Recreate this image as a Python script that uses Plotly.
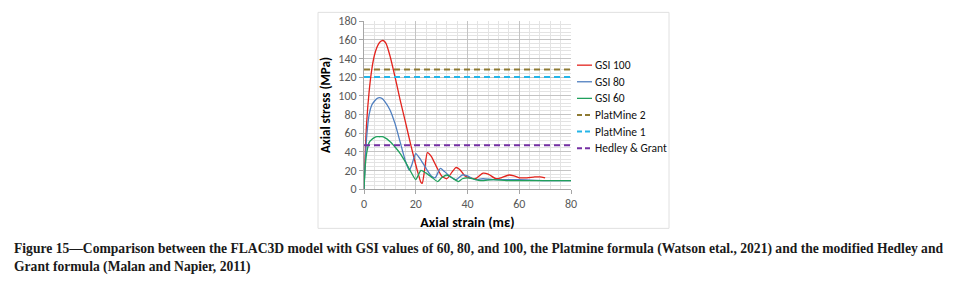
import plotly.graph_objects as go

# ---------------- data ----------------
gsi100_x = [0, 0.5, 1, 2, 3, 4, 5, 6, 7, 7.5, 8.5, 10, 12, 14, 16, 18, 20, 21, 22, 22.5, 23.5, 24.5, 26, 28, 30, 32, 34, 35.5, 37, 39, 41, 43, 46, 48, 51, 53, 56, 58, 60, 63, 66, 68, 70]
gsi100_y = [0, 40, 70, 105, 128, 143, 152, 157, 159, 159, 156, 143, 120, 95, 72, 48, 26, 16, 7, 6, 22, 39, 35, 24, 14, 11, 18, 23, 21, 14, 12, 11, 17, 16, 11, 12, 15, 14, 12, 12, 13, 13, 12]

gsi80_x = [0, 0.5, 1, 2, 3, 4, 5, 6, 7, 8, 10, 12, 14, 16, 17.5, 18.5, 20, 22, 24, 26, 27.5, 29.5, 31, 33, 35.5, 38, 40, 43, 46, 50, 55, 60, 70, 80]
gsi80_y = [0, 30, 55, 80, 90, 94, 97, 98, 97, 94, 85, 70, 50, 30, 20, 26, 38, 31, 22, 14, 12, 22, 19, 14, 10, 15, 14, 10, 11, 10, 10, 10, 9, 9]

gsi60_x = [0, 0.5, 1, 2, 3, 4, 5, 6, 7, 8, 10, 12, 14, 16, 18, 20, 21, 22, 24, 26, 28.5, 30, 32, 34, 36.5, 38, 40, 42, 45, 50, 55, 60, 70, 80]
gsi60_y = [0, 25, 38, 50, 53, 55, 56, 56, 56, 55, 51, 45, 38, 29, 19, 10, 15, 20, 17, 13, 8, 12, 15, 12, 8, 11, 12, 11, 9, 10, 9, 9, 9, 9]

ref_x = [0, 80]
platmine2 = 128
platmine1 = 120
hedley_grant = 47

series_names = ["GSI 100", "GSI 80", "GSI 60", "PlatMine 2", "PlatMine 1", "Hedley & Grant"]
series_colors = ["#e3231d", "#4f7fc0", "#1fa05c", "#8e7a32", "#25b5e8", "#7530a4"]

x_ticks = [0, 20, 40, 60, 80]
y_ticks = [0, 20, 40, 60, 80, 100, 120, 140, 160, 180]

caption = ("<b>Figure 15\u2014Comparison between the FLAC3D model with GSI values of 60, 80, and 100, the Platmine formula "
           "(Watson etal., 2021) and the modified Hedley and<br>Grant formula (Malan and Napier, 2011)</b>")

# ---------------- geometry helpers (reference pixel -> paper) ----------------
PL, PR, PT, PB = 364, 571, 14, 189


def px(x):
    return (x - PL) / (PR - PL)


def py(y):
    return (PB - y) / (PB - PT)


# ---------------- figure ----------------
fig = go.Figure()
solid = dict(width=1.3, shape="spline", smoothing=0.6)
dashed = dict(width=2, dash="6px,4px")
fig.add_trace(go.Scatter(x=gsi100_x, y=gsi100_y, mode="lines", name=series_names[0],
                         line=dict(color=series_colors[0], **solid)))
fig.add_trace(go.Scatter(x=gsi80_x, y=gsi80_y, mode="lines", name=series_names[1],
                         line=dict(color=series_colors[1], **solid)))
fig.add_trace(go.Scatter(x=gsi60_x, y=gsi60_y, mode="lines", name=series_names[2],
                         line=dict(color=series_colors[2], **solid)))
fig.add_trace(go.Scatter(x=ref_x, y=[platmine2] * 2, mode="lines", name=series_names[3],
                         line=dict(color=series_colors[3], **dashed)))
fig.add_trace(go.Scatter(x=ref_x, y=[platmine1] * 2, mode="lines", name=series_names[4],
                         line=dict(color=series_colors[4], **dashed)))
fig.add_trace(go.Scatter(x=ref_x, y=[hedley_grant] * 2, mode="lines", name=series_names[5],
                         line=dict(color=series_colors[5], **dashed)))

axis_font = dict(family="Carlito, Calibri, 'Open Sans', Arial", size=12, color="#595959")
title_family = "Carlito, Calibri, 'Open Sans', Arial"

fig.update_xaxes(range=[0, 80], tickvals=x_ticks, showgrid=True, gridcolor="#c4c4c4", gridwidth=1,
                 minor=dict(dtick=4, showgrid=True, gridcolor="#e3e3e3", gridwidth=1),
                 showline=True, linecolor="#a6a6a6", ticks="outside", ticklen=4, tickcolor="#a6a6a6",
                 tickfont=axis_font, zeroline=False, ticklabeloverflow="allow",
                 title=dict(text="<b>Axial strain (m\u03b5)</b>", standoff=6,
                            font=dict(family=title_family, size=14, color="#000000")))
fig.update_yaxes(range=[0, 180], tickvals=y_ticks, showgrid=True, gridcolor="#c4c4c4", gridwidth=1,
                 minor=dict(dtick=4, showgrid=True, gridcolor="#e3e3e3", gridwidth=1),
                 showline=True, linecolor="#a6a6a6", ticks="outside", ticklen=4, tickcolor="#a6a6a6",
                 tickfont=axis_font, zeroline=False, ticklabeloverflow="allow",
                 title=dict(text="<b>Axial stress (MPa)</b>", standoff=4,
                            font=dict(family=title_family, size=13, color="#000000")))

# custom legend (compact spacing as in the reference)
shapes = [dict(type="rect", xref="paper", yref="paper", x0=px(318), x1=px(669), y0=py(230), y1=py(5),
               line=dict(color="#e0e0e0", width=1), fillcolor="rgba(0,0,0,0)", layer="below")]
annotations = []
leg_y0, leg_dy = 60, 17.3
for i, (nm, col) in enumerate(zip(series_names, series_colors)):
    yy = py(leg_y0 + i * leg_dy)
    if i < 3:
        shapes.append(dict(type="line", xref="paper", yref="paper", x0=px(577), x1=px(592), y0=yy, y1=yy,
                           line=dict(color=col, width=1.3)))
    else:
        shapes.append(dict(type="line", xref="paper", yref="paper", x0=px(577), x1=px(593), y0=yy, y1=yy,
                           line=dict(color=col, width=2, dash="5px,3px")))
    annotations.append(dict(text=nm, xref="paper", yref="paper", x=px(593), y=yy, xanchor="left",
                            yanchor="middle", showarrow=False,
                            font=dict(family=title_family, size=11.5, color="#111111")))

annotations.append(dict(text=caption, xref="paper", yref="paper", x=px(12), y=py(241),
                        xanchor="left", yanchor="top", align="left", showarrow=False,
                        font=dict(family="'Liberation Serif', 'Times New Roman', serif", size=13.6,
                                  color="#1a1a1a")))

# the page body adds an 8px offset, so margins are reduced by 8 on left/top
fig.update_layout(
    width=954, height=283,
    margin=dict(l=PL - 8, r=954 - PR + 8, t=PT - 8, b=283 - PB + 8),
    paper_bgcolor="white", plot_bgcolor="white",
    showlegend=False,
    shapes=shapes,
    annotations=annotations,
)

fig.write_html("out.html")
